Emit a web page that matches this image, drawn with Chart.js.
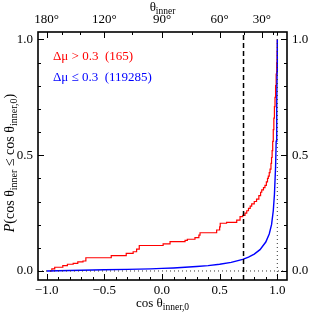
<!DOCTYPE html>
<html>
<head>
<meta charset="utf-8">
<script src="https://cdn.jsdelivr.net/npm/chart.js@4/dist/chart.umd.min.js"></script>
<style>
html, body { margin: 0; padding: 0; background: #fff; }
#wrap { width: 316px; height: 316px; }
</style>
</head>
<body>
<div id="wrap"><canvas id="myChart" width="316" height="316"></canvas></div>
<script>
// cumulative fraction, delta mu > 0.3 (165 systems) - jump positions and new level
const redX = [-0.97, -0.955, -0.93, -0.86, -0.82, -0.77, -0.73, -0.685, -0.66, -0.44, -0.31, -0.25, -0.22, -0.197,
	0.01, 0.07, 0.2, 0.22, 0.286, 0.32, 0.33, 0.474, 0.5, 0.505, 0.56, 0.648, 0.677, 0.70, 0.72, 0.735, 0.75,
	0.765, 0.778, 0.80, 0.82, 0.84, 0.855, 0.865, 0.88, 0.893, 0.905, 0.915, 0.922, 0.93, 0.937, 0.945, 0.95,
	0.955, 0.96, 0.965, 0.97, 0.975, 0.98, 0.985, 0.99, 0.995, 0.998, 1.0];
const redY = [0, 0.009, 0.016, 0.023, 0.029, 0.033, 0.039, 0.043, 0.057, 0.066, 0.076, 0.083, 0.094, 0.11,
	0.117, 0.127, 0.132, 0.137, 0.144, 0.155, 0.165, 0.177, 0.19, 0.206, 0.21, 0.22, 0.235, 0.24, 0.25, 0.26, 0.27,
	0.28, 0.29, 0.30, 0.31, 0.325, 0.34, 0.35, 0.36, 0.37, 0.385, 0.40, 0.41, 0.425, 0.44, 0.465, 0.49,
	0.52, 0.56, 0.61, 0.66, 0.71, 0.75, 0.80, 0.85, 0.90, 0.95, 1.0];
// cumulative fraction, delta mu <= 0.3 (119285 systems)
const blueX = [-1.0, -0.9, -0.7, -0.5, -0.3, -0.1, 0.0, 0.1, 0.2, 0.3, 0.4, 0.5, 0.6, 0.7, 0.75, 0.8, 0.85,
	0.9, 0.93, 0.95, 0.965, 0.975, 0.985, 0.99, 0.995, 0.998, 1.0];
const blueY = [0.0, 0.001, 0.003, 0.005, 0.007, 0.009, 0.011, 0.013, 0.016, 0.019, 0.023, 0.029, 0.037, 0.05,
	0.06, 0.073, 0.092, 0.125, 0.16, 0.2, 0.26, 0.33, 0.45, 0.56, 0.72, 0.86, 1.0];

const bottomTicks = [-1, -0.5, 0, 0.5, 1];
const leftTicks = [0, 0.5, 1];
const topAngles = [180, 120, 90, 60, 30];
const topMinorAngles = [150, 135, 105, 75, 45, 15, 0];
const cutX = 0.707;

const redLabel = 'Δμ > 0.3  (165)';
const blueLabel = 'Δμ ≤ 0.3  (119285)';

const X_MIN = -1.075, X_MAX = 1.084;
const Y_MIN = -0.039, Y_MAX = 1.032;
const FONT = "'Liberation Serif', 'Times New Roman', serif";

function toPts(xs, ys) {
	return xs.map(function (x, i) { return { x: x, y: ys[i] }; });
}
function fmt(v) {
	return (v < 0 ? '\u2212' : '') + Math.abs(v).toFixed(1);
}

// draw text made of pieces (normal / subscript / italic)
function richWidth(ctx, parts) {
	var w = 0;
	parts.forEach(function (p) {
		ctx.font = p.font;
		w += ctx.measureText(p.t).width;
	});
	return w;
}
function drawRich(ctx, parts, x, y) {
	var w = richWidth(ctx, parts);
	var cx = x - w / 2;
	parts.forEach(function (p) {
		ctx.font = p.font;
		ctx.fillText(p.t, cx, y + (p.dy || 0));
		cx += ctx.measureText(p.t).width;
	});
}

const mainF = '13px ' + FONT;
const subF = '9.5px ' + FONT;
const yMainF = '14px ' + FONT;
const ySubF = '10px ' + FONT;
const yItF = 'italic 14px ' + FONT;

const decorPlugin = {
	id: 'decor',
	afterDraw: function (chart) {
		const ctx = chart.ctx;
		const a = chart.chartArea;
		const sx = chart.scales.x, sy = chart.scales.y;
		ctx.save();
		ctx.strokeStyle = '#000';
		ctx.lineWidth = 1;
		// inward ticks
		function tickX(v, len) {
			var p = Math.round(sx.getPixelForValue(v)) + 0.5;
			ctx.beginPath();
			ctx.moveTo(p, a.bottom); ctx.lineTo(p, a.bottom - len);
			ctx.stroke();
		}
		function tickTop(v, len) {
			var p = Math.round(sx.getPixelForValue(v)) + 0.5;
			ctx.beginPath();
			ctx.moveTo(p, a.top); ctx.lineTo(p, a.top + len);
			ctx.stroke();
		}
		function tickY(v, len) {
			var p = Math.round(sy.getPixelForValue(v)) + 0.5;
			ctx.beginPath();
			ctx.moveTo(a.left, p); ctx.lineTo(a.left + len, p);
			ctx.moveTo(a.right, p); ctx.lineTo(a.right - len, p);
			ctx.stroke();
		}
		for (var i = -10; i <= 10; i++) {
			var v = i / 10;
			tickX(v, i % 5 === 0 ? 6 : 3);
			if (i >= 0) tickY(v, i % 5 === 0 ? 6 : 3);
		}
		topAngles.forEach(function (d) { tickTop(Math.cos(d * Math.PI / 180), 6); });
		topMinorAngles.forEach(function (d) { tickTop(Math.cos(d * Math.PI / 180), 3); });

		// frame
		ctx.lineWidth = 1.6;
		ctx.strokeRect(a.left, a.top, a.right - a.left, a.bottom - a.top);

		// axis titles
		ctx.fillStyle = '#000';
		ctx.textBaseline = 'alphabetic';
		drawRich(ctx, [
			{ t: 'cos θ', font: mainF },
			{ t: 'inner,0', font: subF, dy: 3 }
		], (a.left + a.right) / 2, 307);
		drawRich(ctx, [
			{ t: 'θ', font: mainF },
			{ t: 'inner', font: subF, dy: 3 }
		], (a.left + a.right) / 2, 11);
		ctx.save();
		ctx.translate(14, 163);
		ctx.rotate(-Math.PI / 2);
		drawRich(ctx, [
			{ t: 'P', font: yItF },
			{ t: '(cos θ', font: yMainF },
			{ t: 'inner', font: ySubF, dy: 3 },
			{ t: ' ≤ cos θ', font: yMainF },
			{ t: 'inner,0', font: ySubF, dy: 3 },
			{ t: ')', font: yMainF }
		], 0, 0);
		ctx.restore();

		// legend text
		ctx.font = mainF;
		ctx.textAlign = 'left';
		ctx.fillStyle = '#ff0000';
		ctx.fillText(redLabel, 53, 60);
		ctx.fillStyle = '#0000ff';
		ctx.fillText(blueLabel, 53, 81);
		ctx.restore();
	}
};

var ctx = document.getElementById('myChart').getContext('2d');
var myChart = new Chart(ctx, {
	type: 'line',
	data: {
		datasets: [
			{
				data: [{ x: X_MIN, y: 0 }, { x: X_MAX, y: 0 }],
				borderColor: '#333', borderWidth: 1, borderDash: [1, 3], pointRadius: 0
			},
			{
				data: [{ x: 1, y: Y_MIN }, { x: 1, y: Y_MAX }],
				borderColor: '#333', borderWidth: 1, borderDash: [1, 3], pointRadius: 0
			},
			{
				data: [{ x: cutX, y: Y_MIN }, { x: cutX, y: Y_MAX }],
				borderColor: '#000', borderWidth: 1.5, borderDash: [5, 3], pointRadius: 0
			},
			{
				label: blueLabel,
				data: toPts(blueX, blueY),
				borderColor: '#0000ff', borderWidth: 1.4, pointRadius: 0, tension: 0
			},
			{
				label: redLabel,
				data: toPts(redX, redY),
				borderColor: '#ff0000', borderWidth: 1.2, pointRadius: 0, stepped: true
			}
		]
	},
	options: {
		responsive: false,
		animation: false,
		devicePixelRatio: 1,
		layout: { padding: 0 },
		plugins: { legend: { display: false }, tooltip: { enabled: false } },
		scales: {
			x: {
				type: 'linear', position: 'bottom', min: X_MIN, max: X_MAX,
				grid: { display: false, drawTicks: false }, border: { display: false },
				afterBuildTicks: function (s) { s.ticks = bottomTicks.map(function (v) { return { value: v }; }); },
				afterFit: function (s) { s.height = 36; },
				ticks: {
					autoSkip: false, maxRotation: 0, padding: 3, color: '#000',
					font: { family: FONT, size: 13 },
					callback: function (v) { return fmt(v); }
				}
			},
			x2: {
				type: 'linear', position: 'top', min: X_MIN, max: X_MAX,
				grid: { display: false, drawTicks: false }, border: { display: false },
				afterBuildTicks: function (s) {
					s.ticks = topAngles.map(function (d) { return { value: Math.cos(d * Math.PI / 180) }; });
				},
				afterFit: function (s) { s.height = 32; },
				ticks: {
					autoSkip: false, maxRotation: 0, padding: 5, color: '#000',
					font: { family: FONT, size: 13 },
					callback: function (v, i) { return topAngles[i] + '°'; }
				}
			},
			y: {
				type: 'linear', position: 'left', min: Y_MIN, max: Y_MAX,
				grid: { display: false, drawTicks: false }, border: { display: false },
				afterBuildTicks: function (s) { s.ticks = leftTicks.map(function (v) { return { value: v }; }); },
				afterFit: function (s) { s.width = 38; },
				ticks: {
					padding: 5, color: '#000',
					font: { family: FONT, size: 13 },
					callback: function (v) { return fmt(v); }
				}
			},
			y2: {
				type: 'linear', position: 'right', min: Y_MIN, max: Y_MAX,
				grid: { display: false, drawTicks: false }, border: { display: false },
				afterBuildTicks: function (s) { s.ticks = leftTicks.map(function (v) { return { value: v }; }); },
				afterFit: function (s) { s.width = 29; },
				ticks: {
					padding: 5, color: '#000',
					font: { family: FONT, size: 13 },
					callback: function (v) { return fmt(v); }
				}
			}
		}
	},
	plugins: [decorPlugin]
});
</script>
</body>
</html>
